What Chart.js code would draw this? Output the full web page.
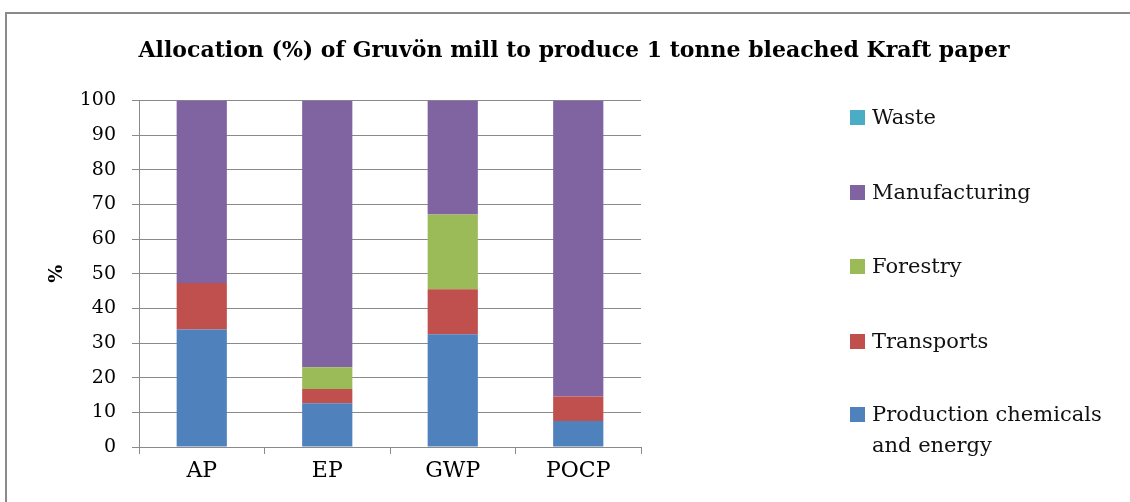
<!DOCTYPE html>
<html>
<head>
<meta charset="utf-8">
<script src="https://cdn.jsdelivr.net/npm/chart.js@4.4.1/dist/chart.umd.min.js"></script>
<style>
  html,body{margin:0;padding:0;background:#fff;overflow:hidden;}
  #frame{position:absolute;left:5px;top:12px;width:1134px;height:520px;border:2px solid #8a8a8a;background:#fff;}
  #wrap{position:absolute;left:0;top:0;width:1134px;height:520px;}
  #legend{position:absolute;left:843px;top:0;font-family:"DejaVu Serif",serif;font-size:21px;color:#111;}
  .lg-item{position:absolute;left:0;white-space:nowrap;line-height:31px;}
  .lg-box{position:absolute;left:0;top:8px;width:15px;height:15px;}
  .lg-text{position:absolute;left:22px;top:0;}
</style>
</head>
<body>
<div id="frame">
  <div id="wrap"><canvas id="c"></canvas></div>
  <div id="legend"></div>
</div>
<script>
// DATA
const categories=['AP','EP','GWP','POCP'];
const seriesNames=['Production chemicals and energy','Transports','Forestry','Manufacturing','Waste'];
const production=[33.9,12.6,32.5,7.5];
const transports=[13.4,4.1,13.0,7.1];
const forestry=[0,6.3,21.6,0];
const manufacturing=[52.7,77.0,32.9,85.4];
const waste=[0,0,0,0];
const yTicks=[0,10,20,30,40,50,60,70,80,90,100];
const colors=['#4F81BD','#C0504D','#9BBB59','#8064A2','#4BACC6'];

const values=[production,transports,forestry,manufacturing,waste];
const FONT='"DejaVu Serif", serif';

const datasets=values.map((v,i)=>({
  label:seriesNames[i],data:v,backgroundColor:colors[i],borderWidth:0,
  barPercentage:0.4,categoryPercentage:1
}));

// html legend, reversed like the original (Waste at top)
const lg=document.getElementById('legend');
const legendTops=[88,163,237,312,385];
seriesNames.slice().reverse().forEach((name,i)=>{
  const col=colors[seriesNames.length-1-i];
  const txt=name==='Production chemicals and energy'?'Production chemicals<br>and energy':name;
  const d=document.createElement('div');d.className='lg-item';d.style.top=legendTops[i]+'px';
  d.innerHTML=`<div class="lg-box" style="background:${col}"></div><div class="lg-text">${txt}</div>`;
  lg.appendChild(d);
});

new Chart(document.getElementById('c').getContext('2d'),{
  type:'bar',
  data:{labels:categories,datasets},
  options:{
    responsive:true,maintainAspectRatio:false,animation:false,
    layout:{padding:0},
    plugins:{
      legend:{display:false},
      tooltip:{enabled:false},
      title:{display:true,text:'Allocation (%) of Gruvön mill to produce 1 tonne bleached Kraft paper',
        color:'#000',font:{family:FONT,size:22,weight:'bold'},padding:{top:24,bottom:36}}
    },
    scales:{
      x:{
        stacked:true,
        grid:{display:true,drawOnChartArea:false,drawTicks:true,tickLength:7,color:'#8a8a8a',offset:true},
        border:{display:true,color:'#8a8a8a',width:1},
        ticks:{color:'#000',font:{family:FONT,size:22},padding:4,maxRotation:0},
        afterFit:s=>{s.height=87;}
      },
      y:{
        stacked:true,min:0,max:100,
        afterBuildTicks:s=>{s.ticks=yTicks.map(v=>({value:v}));},
        grid:{color:'#8a8a8a',lineWidth:1,tickLength:7},
        border:{display:true,color:'#8a8a8a',width:1},
        ticks:{color:'#000',font:{family:FONT,size:19},padding:16},
        title:{display:true,text:'%',color:'#000',font:{family:FONT,size:19,weight:'bold'},padding:{top:39,bottom:0}},
        afterFit:s=>{s.width=132;}
      },
      // empty right-hand box that keeps room for the html legend
      yR:{
        type:'linear',position:'right',display:true,
        grid:{drawOnChartArea:false,drawTicks:false},border:{display:false},
        ticks:{display:false},
        afterFit:s=>{s.width=500;}
      }
    }
  }
});
</script>
</body>
</html>
